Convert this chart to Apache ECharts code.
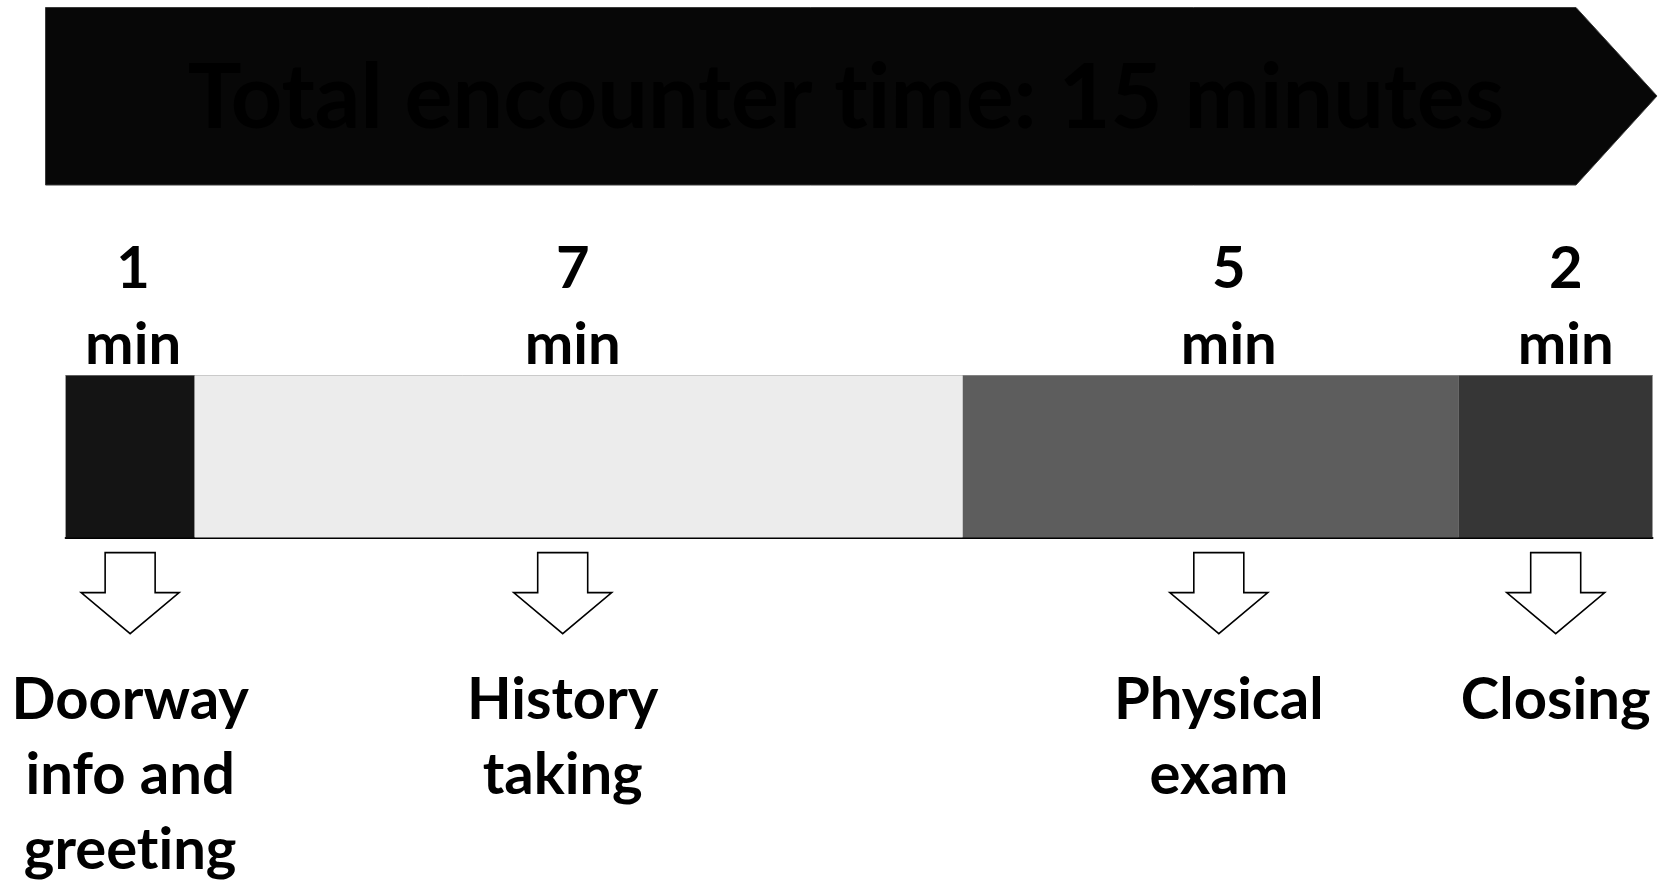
<!DOCTYPE html>
<html>
<head>
<meta charset="utf-8">
<script src="https://cdn.jsdelivr.net/npm/echarts@6/dist/echarts.min.js"></script>
<style>
  html, body { margin: 0; padding: 0; background: #ffffff; }
  #chart { width: 1659px; height: 884px; }
</style>
</head>
<body>
<div id="chart"></div>
<script>
// ---- data ----
const titleText = 'Total encounter time: 15 minutes';
const phases = ['Doorway\ninfo and\ngreeting', 'History\ntaking', 'Physical\nexam', 'Closing'];
const minutes = [1, 7, 5, 2];
// segment lengths as drawn in the picture (in minutes of the 15-minute axis)
const barLengths = [1.22, 7.26, 4.69, 1.83];

// ---- styles ----
const segColors = ['#141414', '#ececec', '#5d5d5d', '#363636'];
const valueLabelShift = [3, -6, 18, 10];   // px nudges of the "n min" labels
const arrowShift = [0, -16, 8, 0];         // px nudges of the down arrows / phase names

// avoid Lato's "ti" ligature (reference font has none)
(function () {
  const proto = CanvasRenderingContext2D.prototype;
  const orig = proto.fillText;
  proto.fillText = function () {
    try { this.textRendering = 'optimizeSpeed'; } catch (e) {}
    return orig.apply(this, arguments);
  };
})();

const FONT = 'Lato, "Open Sans", sans-serif';
function fitSize(text, targetWidth) {
  const ctx = document.createElement('canvas').getContext('2d');
  try { ctx.textRendering = 'optimizeSpeed'; } catch (e) {}
  ctx.font = 'bold 100px ' + FONT;
  return 100 * targetWidth / ctx.measureText(text).width;
}
const titleSize = fitSize(titleText, 1317);
const labelSize = 58;

const total = barLengths.reduce((a, b) => a + b, 0);
const starts = [];
barLengths.reduce((acc, v, i) => { starts[i] = acc; return acc + v; }, 0);

const chart = echarts.init(document.getElementById('chart'));

const barSeries = barLengths.map((v, i) => ({
  type: 'bar',
  stack: 'total',
  barWidth: 162,
  data: [v],
  itemStyle: { color: segColors[i] },
  silent: true,
  label: {
    show: true,
    position: 'top',
    distance: -8,
    offset: [valueLabelShift[i], 0],
    formatter: () => minutes[i] + '\nmin',
    color: '#000',
    fontFamily: FONT,
    fontWeight: 'bold',
    fontSize: labelSize,
    lineHeight: 76,
    align: 'center'
  }
}));

const arrowSeries = {
  type: 'custom',
  silent: true,
  encode: { x: [0, 1], y: 2 },
  data: phases.map((p, i) => [starts[i], starts[i] + barLengths[i], 0, i]),
  renderItem: function (params, api) {
    const idx = api.value(3);
    const a = api.coord([api.value(0), api.value(2)]);
    const b = api.coord([api.value(1), api.value(2)]);
    const cx = (a[0] + b[0]) / 2 + arrowShift[idx];
    const yb = a[1] + 81;
    const shaftTop = yb + 15, shoulder = yb + 55, tip = yb + 96;
    const sw = 25, hw = 49;
    return {
      type: 'group',
      children: [
        {
          type: 'polygon',
          shape: {
            points: [
              [cx - sw, shaftTop], [cx + sw, shaftTop], [cx + sw, shoulder],
              [cx + hw, shoulder], [cx, tip], [cx - hw, shoulder], [cx - sw, shoulder]
            ]
          },
          style: { fill: '#ffffff', stroke: '#000000', lineWidth: 1.6 }
        },
        {
          type: 'text',
          style: {
            text: phases[idx],
            x: cx,
            y: yb + 125,
            textAlign: 'center',
            textVerticalAlign: 'top',
            font: 'bold ' + labelSize + 'px ' + FONT,
            lineHeight: 75,
            fill: '#000'
          }
        }
      ]
    };
  }
};

const option = {
  backgroundColor: '#ffffff',
  animation: false,
  grid: { left: 65.6, right: 6.5, top: 375.6, height: 162, containLabel: false },
  xAxis: [
    {
      type: 'value', min: 0, max: total, position: 'bottom',
      axisLine: { show: true, onZero: false, lineStyle: { color: '#000', width: 2 } },
      axisTick: { show: false }, axisLabel: { show: false }, splitLine: { show: false }
    },
    {
      type: 'value', min: 0, max: total, position: 'top',
      axisLine: { show: true, onZero: false, lineStyle: { color: '#a8a8a8', width: 1 } },
      axisTick: { show: false }, axisLabel: { show: false }, splitLine: { show: false }
    }
  ],
  yAxis: {
    type: 'category', data: ['Encounter'], show: false
  },
  graphic: [
    {
      type: 'polygon',
      z: 0,
      shape: { points: [[45.5, 7.5], [1576, 7.5], [1657, 96], [1576, 185], [45.5, 185]] },
      style: { fill: '#070707', stroke: '#3a3a3a', lineWidth: 1 }
    },
    {
      type: 'text',
      z: 1,
      style: {
        text: titleText,
        x: 846, y: 99,
        textAlign: 'center', textVerticalAlign: 'middle',
        font: 'bold ' + titleSize.toFixed(1) + 'px ' + FONT,
        fill: '#000000'
      }
    }
  ],
  series: barSeries.concat([arrowSeries])
};

chart.setOption(option);
</script>
</body>
</html>
